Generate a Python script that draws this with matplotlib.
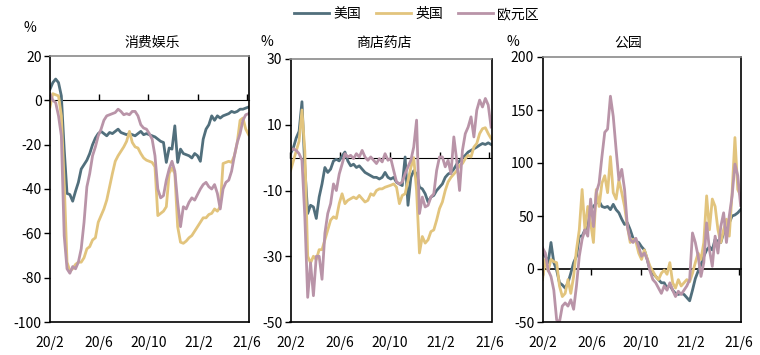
"""
Mobility by category (US / UK / euro area), three small panels side by side.
"""

import numpy as np
import pandas as pd
import matplotlib
matplotlib.use("Agg")
import matplotlib.pyplot as plt

plt.rcParams["font.family"] = ["Noto Sans CJK SC", "DejaVu Sans"]
plt.rcParams["axes.unicode_minus"] = False

# weekly points from 2020-02-01
dates = pd.date_range("2020-02-01", periods=71, freq="7D")

series_names = ["美国", "英国", "欧元区"]
colors = ["#516f7c", "#e2c47d", "#b994a8"]

# 消费娱乐
retail_us = [5, 8, 9.6, 8, 2, -22, -42, -42.5, -45.5, -41, -37, -31, -29, -27, -24, -20,
             -17, -15, -14, -15, -16, -14.5, -15, -14, -13, -14.5, -15, -15.5, -15, -15.5,
             -16, -15, -14, -15.5, -15, -15.5, -16, -16.5, -17.5, -18.5, -19, -28, -21.5,
             -22, -11.5, -28, -22, -24, -24.5, -25, -26, -24, -25, -27.5, -17.5, -13, -11,
             -7, -9, -7, -8, -7, -6.5, -6, -5, -5.5, -5, -4, -4, -3.5, -3]
retail_uk = [-3, 3, 2.5, 2, -7, -37, -73, -77, -76, -74, -73, -73, -71, -67, -66, -63,
             -62, -55, -52, -49, -45, -39, -33, -27.5, -25, -23, -21, -18.5, -14, -19, -21,
             -21.5, -24, -26, -27, -27.5, -28, -30, -52, -51, -50, -48, -33, -30.5, -33,
             -57, -64, -64.5, -63.5, -62, -61, -59, -57, -55, -53, -53, -51.5, -51, -49,
             -50, -48, -28.5, -28, -27.5, -28, -25, -19, -9, -8, -13, -15.5]
retail_ea = [3, 0, -1, -7, -16, -61, -76, -78, -75, -76, -73, -67, -55, -39, -33, -25,
             -21, -16, -13, -9, -7, -6.5, -6, -5.5, -4, -5, -6.5, -6, -6.5, -5, -5, -7,
             -11, -12.5, -13, -15, -17.5, -25, -40, -44, -43, -36, -31, -27.5, -32, -46,
             -57, -48, -49, -46, -44, -45, -42.5, -40, -38, -37, -39, -40, -38, -42, -49,
             -40, -37, -36, -32, -25, -19, -15, -9, -6.5, -6]

# 商店药店
grocery_us = [1.2, 3, 6, 8, 17, -3, -17, -14.5, -15, -18.5, -12, -8, -3, -4.5, -3.5, -1,
              -0.5, -1, 0.5, 1.7, -1, -2.5, -2, -3, -2.5, -3.5, -4.5, -5, -5.5, -6, -6,
              -6.5, -6, -4.5, -6, -6.5, -6, -7.5, -8, -8.5, 0.2, -14.5, -6, -4, -5, -9,
              -9.5, -11, -13.5, -12, -11.5, -10, -9, -8, -6, -5, -4.5, -3.5, -2, -1, 0,
              0.7, 1.7, 2.2, 2.7, 3.2, 3.8, 4.3, 4, 4.5, 4]
grocery_uk = [-4, -1, 2, 5, 14.5, 2, -30, -32, -30, -31, -28, -28, -25, -22, -19, -18,
              -18.5, -14, -11, -14, -13, -12.5, -12, -12.5, -11.5, -12.5, -13.5, -13, -11,
              -11.5, -10, -9.5, -9.5, -9, -8.7, -8.4, -8, -9, -14, -11.5, -11, -7, -3, 0,
              -10, -29, -24, -26, -25, -22.5, -22, -19, -15.5, -13.5, -10, -7.4, -6, -5,
              -4, -2.3, -1.8, -0.3, 0.7, 0.2, 3.2, 4.3, 7.3, 8.8, 9.1, 7.3, 5.8]
grocery_ea = [2.2, 2.7, 2.2, 1.2, -0.8, -18, -42.5, -32, -42, -30, -30, -37, -23, -17, -14,
              -8, -10, -5, -2, 1.2, 0.2, 0.7, -0.3, 1.2, 0.2, 2.2, 0.2, -0.8, 0.2, -0.8,
              -1.8, -0.3, -1.3, 1.2, -0.8, -0.3, -3.9, -7.4, -8, -7.4, -4.9, -2.8, -0.8,
              3.2, 11.4, -17, -12, -15, -14.5, -12, -11, -3.9, 0.2, 0.2, -2.8, -0.8, -4.9,
              6.3, -0.8, -10, 2.2, 7.3, 9.3, 12.4, 6.3, 14.4, 17.5, 15.4, 18, 16, 9.3]

# 公园
parks_us = [15, 12, 6, 25, 6, -1, -13, -15, -18, -13, -4, 6, 12, 31, 31, 37, 40, 56, 59,
            62, 64, 59, 58, 59, 56, 61, 56, 53, 47, 42, 43.5, 37, 29, 26, 25, 21, 18, 9,
            -1, -4, -7, -10, -13, -13, -18, -15, -20, -23, -24, -23, -24, -27, -30, -20,
            -9, -2, 4, 12, 18, 21, 18, 28, 26, 25, 34, 37, 43.5, 50, 51, 53, 56]
parks_uk = [-10, 9, -2, 9, 7, 6, -16, -26, -23, -10, -23, -7, 18, 37, 75, 37, 59, 43.5,
            25, 75, 59, 81, 88, 72, 106, 72, 66, 84, 72, 59, 40, 25, 28, 26, 15, 9, 18,
            10, 2.5, -2, -7, -10, -4, -1, -5, 6, -13, -18, -10, -16, -13, -10, -12, -4, 6,
            15, 9, 25, 69, 37, 66, 59, 37, 25, 37, 47, 31, 72, 124, 75, 69]
parks_ea = [20, 15, -1, -7, -20, -48, -50, -35, -32, -35, -29, -38, -16, 12, 28, 37, 31,
            66, 40, 72, 81, 106, 129, 132, 163, 144, 113, 84, 94, 75, 40, 28, 25, 29, 21,
            12, 15, 9, -2, -10, -13, -18, -23, -16, -20, -13, -20, -26, -21, -24, -20,
            -16, -10, 34, 25, 12, -7, 6, 43.5, 18, 2.5, 31, 15, 40, 53, 25, 50, 69, 99,
            88, 60]

panels = [
    ("消费娱乐", [retail_us, retail_uk, retail_ea], (-100, 20), [20, 0, -20, -40, -60, -80, -100]),
    ("商店药店", [grocery_us, grocery_uk, grocery_ea], (-50, 30), [30, 10, -10, -30, -50]),
    ("公园", [parks_us, parks_uk, parks_ea], (-50, 200), [200, 150, 100, 50, 0, -50]),
]

tick_dates = pd.to_datetime(["2020-02-01", "2020-06-01", "2020-10-01", "2021-02-01", "2021-06-01"])
tick_labels = ["20/2", "20/6", "20/10", "21/2", "21/6"]

rects = [
    [50 / 760, 33 / 355, 199 / 760, 266 / 355],
    [290.5 / 760, 33 / 355, 201 / 760, 263 / 355],
    [542.5 / 760, 33 / 355, 198.5 / 760, 265 / 355],
]
title_x = [152, 384, 628]
pct_xy = [(30, 28), (267, 42), (513, 42)]

fig = plt.figure(figsize=(7.6, 3.55), dpi=100)

lines = []
for (title, data, ylim, yticks), rect, tx, pxy in zip(panels, rects, title_x, pct_xy):
    ax = fig.add_axes(rect)
    for vals, c, name in zip(data, colors, series_names):
        ln, = ax.plot(dates, vals, color=c, lw=2, label=name, solid_joinstyle="round")
        if len(lines) < 3:
            lines.append(ln)
    ax.set_ylim(*ylim)
    ax.set_xlim(pd.Timestamp("2020-02-01"), pd.Timestamp("2021-06-06"))
    ax.set_yticks(yticks)
    ax.set_yticklabels([f"{v:g}" for v in yticks], fontsize=10)
    ax.set_xticks(tick_dates)
    ax.set_xticklabels(tick_labels, fontsize=10)
    ax.tick_params(axis="x", length=0, pad=10)
    ax.tick_params(axis="y", direction="out", length=4, width=1, pad=2)
    for side in ["left", "right", "bottom"]:
        ax.spines[side].set_color("black")
        ax.spines[side].set_linewidth(1.2)
    ax.spines["top"].set_color("#8a8a8a")
    ax.spines["top"].set_linewidth(1.2)

    # zero line carrying the date ticks
    zero_pos = (0 - ylim[0]) / (ylim[1] - ylim[0])
    sec = ax.secondary_xaxis(zero_pos)
    sec.set_xticks(tick_dates)
    sec.set_xticklabels([])
    sec.tick_params(direction="out", length=4, width=1)
    sec.spines["bottom"].set_linewidth(1.2)

    fig.text(tx / 760, 1 - 43 / 355, title, ha="center", va="center", fontsize=10)
    fig.text(pxy[0] / 760, 1 - pxy[1] / 355, "%", ha="center", va="center", fontsize=10)

fig.legend(lines, series_names, loc="center", bbox_to_anchor=(416.5 / 760, 1 - 14 / 355),
           ncol=3, frameon=False, fontsize=10, handlelength=2.5, handletextpad=0.3,
           columnspacing=1.1)

fig.savefig("out.png", dpi=100)
